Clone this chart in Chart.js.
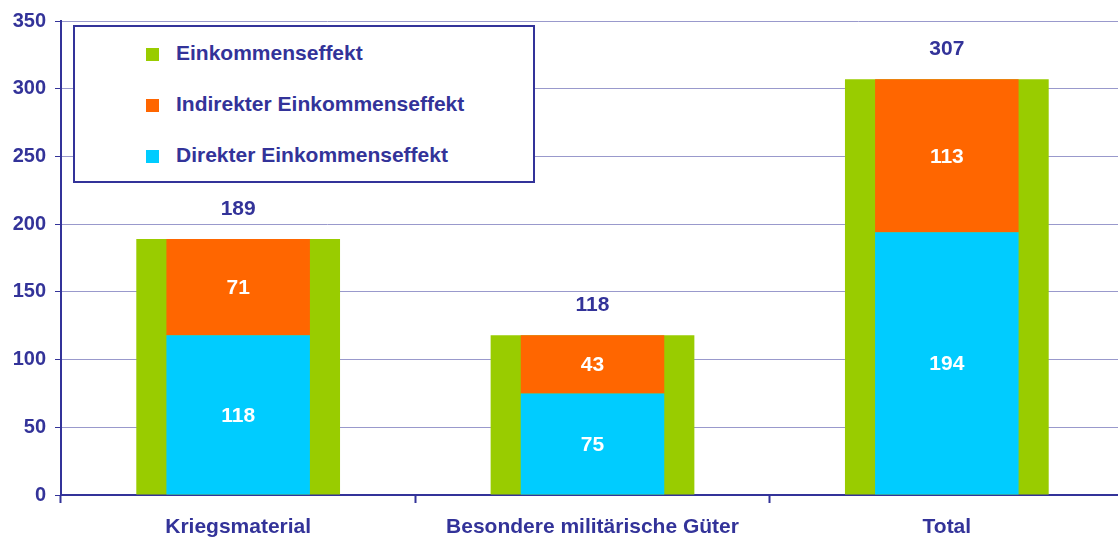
<!DOCTYPE html>
<html>
<head>
<meta charset="utf-8">
<script src="https://cdn.jsdelivr.net/npm/chart.js@4"></script>
<style>
  body { margin: 0; background: #fff; overflow: hidden; }
  #wrap { position: relative; width: 1118px; height: 539px; overflow: hidden; }
  #plot { position: absolute; left: 0; top: 0; width: 1124px; height: 539px; }
  #legend {
    position: absolute; left: 73px; top: 25px; width: 458px; height: 154px;
    border: 2px solid #333399; background: #fff;
    font-family: "Liberation Sans", Arial, sans-serif; font-weight: bold; font-size: 21px; color: #333399;
  }
  .item { position: absolute; left: 71px; height: 24px; line-height: 24px; }
  .item span { display: inline-block; width: 13px; height: 13px; margin-right: 17px; vertical-align: -1px; }
</style>
</head>
<body>
<div id="wrap">
  <div id="plot"><canvas id="effectChart"></canvas></div>
  <div id="legend"></div>
</div>
<script>
  const categories = ['Kriegsmaterial', 'Besondere militärische Güter', 'Total'];
  const totalEffect = [189, 118, 307];
  const directEffect = [118, 75, 194];
  const indirectEffect = [71, 43, 113];
  const yTicks = [0, 50, 100, 150, 200, 250, 300, 350];

  const navy = '#333399';
  const green = '#99cc00';
  const orange = '#ff6600';
  const cyan = '#00ccff';

  // legend (html)
  const legendItems = [
    ['Einkommenseffekt', green],
    ['Indirekter Einkommenseffekt', orange],
    ['Direkter Einkommenseffekt', cyan]
  ];
  const legendEl = document.getElementById('legend');
  legendItems.forEach((it, i) => {
    const d = document.createElement('div');
    d.className = 'item';
    d.style.top = (14 + i * 51) + 'px';
    d.innerHTML = '<span style="background:' + it[1] + '"></span>' + it[0];
    legendEl.appendChild(d);
  });

  // value labels
  const labelPlugin = {
    id: 'valueLabels',
    afterDatasetsDraw(chart) {
      const ctx = chart.ctx;
      ctx.save();
      ctx.font = 'bold 21px "Liberation Sans", Arial, sans-serif';
      ctx.textAlign = 'center';
      ctx.textBaseline = 'middle';
      chart.data.datasets.forEach((ds, di) => {
        const meta = chart.getDatasetMeta(di);
        meta.data.forEach((bar, i) => {
          const v = ds.data[i];
          if (ds.stack === 'total') {
            ctx.fillStyle = navy;
            ctx.fillText(v, bar.x, bar.y - 30);
          } else {
            ctx.fillStyle = '#ffffff';
            ctx.fillText(v, bar.x, (bar.y + bar.base) / 2 + 1);
          }
        });
      });
      ctx.restore();
    }
  };

  const ctx = document.getElementById('effectChart');

  new Chart(ctx, {
    type: 'bar',
    data: {
      labels: categories,
      datasets: [
        {
          label: 'Direkter Einkommenseffekt',
          data: directEffect,
          backgroundColor: cyan,
          stack: 'parts',
          order: 1,
          grouped: false,
          categoryPercentage: 1,
          barPercentage: 0.405
        },
        {
          label: 'Indirekter Einkommenseffekt',
          data: indirectEffect,
          backgroundColor: orange,
          stack: 'parts',
          order: 1,
          grouped: false,
          categoryPercentage: 1,
          barPercentage: 0.405
        },
        {
          label: 'Einkommenseffekt',
          data: totalEffect,
          backgroundColor: green,
          stack: 'total',
          order: 2,
          grouped: false,
          categoryPercentage: 1,
          barPercentage: 0.575
        }
      ]
    },
    options: {
      responsive: true,
      maintainAspectRatio: false,
      animation: false,
      layout: {
        padding: { top: 18, right: 0, left: 0, bottom: 0 }
      },
      plugins: {
        legend: { display: false },
        tooltip: { enabled: false }
      },
      scales: {
        x: {
          stacked: true,
          afterFit: s => { s.height = 44; },
          grid: {
            offset: true,
            drawOnChartArea: false,
            tickLength: 8,
            tickColor: navy,
            tickWidth: 2
          },
          border: { color: navy, width: 2 },
          ticks: {
            color: navy,
            padding: 12,
            font: { family: '"Liberation Sans", Arial, sans-serif', size: 21, weight: 'bold' }
          }
        },
        y: {
          stacked: true,
          min: 0,
          max: 350,
          afterFit: s => { s.width = 61; },
          afterBuildTicks: s => { s.ticks = yTicks.map(v => ({ value: v })); },
          grid: {
            color: '#9999cc',
            lineWidth: 1,
            tickLength: 6,
            tickColor: navy
          },
          border: { color: navy, width: 2 },
          ticks: {
            color: navy,
            padding: 9,
            font: { family: '"Liberation Sans", Arial, sans-serif', size: 20, weight: 'bold' }
          }
        }
      }
    },
    plugins: [labelPlugin]
  });
</script>
</body>
</html>
